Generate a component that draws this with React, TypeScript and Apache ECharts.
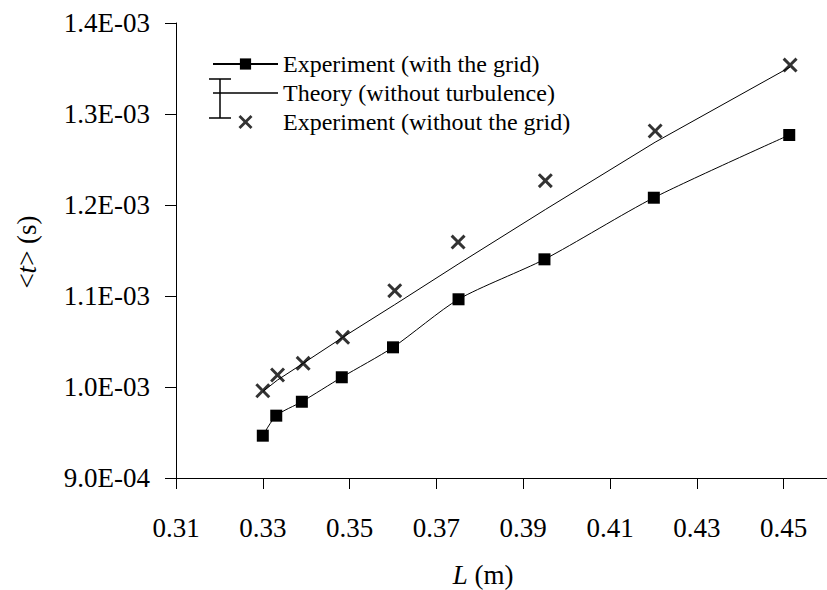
import React, { useEffect, useRef } from "react";
import * as echarts from "echarts";

const FONT = '"Liberation Serif", "Times New Roman", Times, serif';

// L (m) and <t> (s) for the experiment with the grid
const withGridL = [0.33, 0.3331, 0.339, 0.3482, 0.36, 0.3751, 0.3949, 0.4201, 0.4513];
const withGridT = [9.465e-4, 9.685e-4, 9.838e-4, 1.0107e-3, 1.0436e-3, 1.0964e-3, 1.1403e-3, 1.208e-3, 1.2769e-3];

// Experiment without the grid
const noGridL = [0.33, 0.3334, 0.3393, 0.3484, 0.3604, 0.375, 0.3951, 0.4204, 0.4515];
const noGridT = [9.959e-4, 1.0132e-3, 1.026e-3, 1.0546e-3, 1.1058e-3, 1.1593e-3, 1.2267e-3, 1.2813e-3, 1.3538e-3];

// Theory (without turbulence)
const theoryL = [0.33, 0.3334, 0.3393, 0.3484, 0.3604, 0.375, 0.3951, 0.4204, 0.4515];
const theoryT = [9.95e-4, 1.0077e-3, 1.026e-3, 1.0545e-3, 1.0905e-3, 1.135e-3, 1.195e-3, 1.269e-3, 1.3516e-3];

const xTicks = [0.31, 0.33, 0.35, 0.37, 0.39, 0.41, 0.43, 0.45];
const yTicks = [9e-4, 1e-3, 1.1e-3, 1.2e-3, 1.3e-3, 1.4e-3];

const seriesNames = [
  "Experiment (with the grid)",
  "Theory (without turbulence)",
  "Experiment (without the grid)",
];

const X_SYMBOL =
  "path://M0,1.4L1.4,0L5,3.6L8.6,0L10,1.4L6.4,5L10,8.6L8.6,10L5,6.4L1.4,10L0,8.6L3.6,5Z";
const BAR_ICON = "path://M0,4.9L10,4.9L10,5.1L0,5.1Z";

function fmtExp(v: number): string {
  const [m, e] = v.toExponential(1).split("e");
  const n = parseInt(e, 10);
  const sign = n < 0 ? "-" : "+";
  return `${m}E${sign}${String(Math.abs(n)).padStart(2, "0")}`;
}

export default function App() {
  const ref = useRef<HTMLDivElement>(null);

  useEffect(() => {
    if (!ref.current) return;
    const chart = echarts.init(ref.current, undefined, { renderer: "svg" });
    const pair = (xs: number[], ys: number[]) => xs.map((x, i) => [x, ys[i]]);

    chart.setOption({
      animation: false,
      backgroundColor: "#fff",
      grid: { left: 176, right: 0, top: 23, bottom: 112, containLabel: false },
      xAxis: {
        type: "value",
        min: 0.31,
        max: 0.46,
        axisLine: { show: true, lineStyle: { color: "#000", width: 1 } },
        axisTick: { show: true, length: 11, inside: false, customValues: xTicks, lineStyle: { color: "#000" } },
        axisLabel: {
          customValues: xTicks,
          margin: 36,
          fontFamily: FONT,
          fontSize: 27,
          color: "#000",
          formatter: (v: number) => v.toFixed(2),
        },
        splitLine: { show: false },
      },
      yAxis: {
        type: "value",
        min: 9e-4,
        max: 1.4e-3,
        axisLine: { show: true, lineStyle: { color: "#000", width: 1 } },
        axisTick: { show: true, length: 11, inside: false, customValues: yTicks, lineStyle: { color: "#000" } },
        axisLabel: {
          customValues: yTicks,
          margin: 26,
          fontFamily: FONT,
          fontSize: 27,
          color: "#000",
          formatter: (v: number) => fmtExp(v),
        },
        splitLine: { show: false },
      },
      legend: {
        orient: "vertical",
        left: 212,
        top: 52,
        padding: 0,
        itemGap: 5,
        itemWidth: 65,
        itemHeight: 14,
        textStyle: { fontFamily: FONT, fontSize: 24, color: "#000", lineHeight: 24 },
        data: [
          { name: seriesNames[0] },
          { name: seriesNames[1], icon: BAR_ICON },
          { name: seriesNames[2] },
        ],
      },
      graphic: [
        {
          type: "line",
          shape: { x1: 220, y1: 79, x2: 220, y2: 118 },
          style: { stroke: "#000", lineWidth: 1.5 },
        },
        {
          type: "line",
          shape: { x1: 209, y1: 79, x2: 231, y2: 79 },
          style: { stroke: "#000", lineWidth: 1.5 },
        },
        {
          type: "line",
          shape: { x1: 209, y1: 118, x2: 231, y2: 118 },
          style: { stroke: "#000", lineWidth: 1.5 },
        },
        {
          type: "text",
          x: 483,
          y: 575,
          style: {
            text: "{i|L} (m)",
            fontFamily: FONT,
            fontSize: 27,
            fill: "#000",
            align: "center",
            verticalAlign: "middle",
            rich: { i: { fontStyle: "italic", fontFamily: FONT, fontSize: 27 } },
          },
        },
        {
          type: "text",
          x: 27,
          y: 252,
          rotation: Math.PI / 2,
          style: {
            text: "<{i|t}> (s)",
            fontFamily: FONT,
            fontSize: 27,
            fill: "#000",
            align: "center",
            verticalAlign: "middle",
            rich: { i: { fontStyle: "italic", fontFamily: FONT, fontSize: 27 } },
          },
        },
      ],
      series: [
        {
          name: seriesNames[0],
          type: "line",
          data: pair(withGridL, withGridT),
          symbol: "rect",
          symbolSize: 12,
          smooth: 0.25,
          lineStyle: { color: "#000", width: 1 },
          itemStyle: { color: "#000" },
          z: 3,
        },
        {
          name: seriesNames[1],
          type: "line",
          data: pair(theoryL, theoryT),
          symbol: "none",
          smooth: false,
          lineStyle: { color: "#000", width: 1 },
          itemStyle: { color: "#000" },
          z: 2,
          markLine: {
            silent: true,
            symbol: ["none", "none"],
            label: { show: false },
            lineStyle: { color: "#8a8a8a", width: 1.5, type: "solid" },
            data: [{ yAxis: 1.4e-3 }],
          },
        },
        {
          name: seriesNames[2],
          type: "scatter",
          data: pair(noGridL, noGridT),
          symbol: X_SYMBOL,
          symbolSize: 15,
          itemStyle: { color: "#000" },
          z: 4,
        },
      ],
    });

    return () => chart.dispose();
  }, []);

  return (
    <div
      ref={ref}
      style={{ position: "absolute", left: 0, top: 0, width: 827, height: 590 }}
    />
  );
}
